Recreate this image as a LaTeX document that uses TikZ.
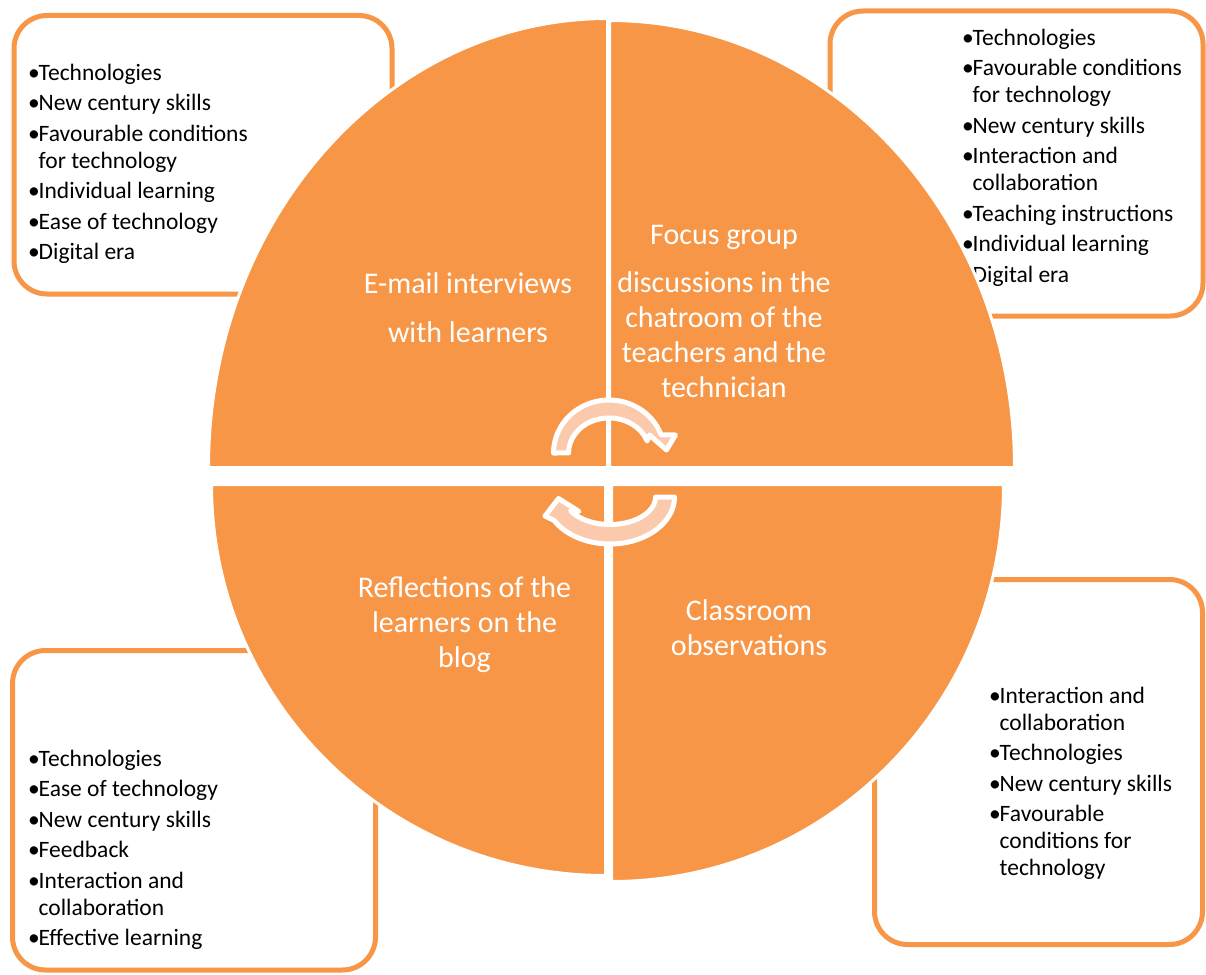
\documentclass[tikz,border=0pt]{standalone}
\usepackage{fontspec}
\setmainfont{Carlito}
\definecolor{accent}{HTML}{F79646}
\definecolor{arrowfill}{HTML}{FBCAAD}
\newcommand{\bul}{\makebox[10.5pt][l]{\textbullet}}
\newcommand{\cont}{\hspace*{10.5pt}}
\begin{document}
\begin{tikzpicture}[x=1pt, y=1pt, yscale=-1,
		every node/.append style={inner sep=0pt},
		listbox/.style={draw=accent, line width=5pt, fill=white, rounded corners=33pt},
		listtext/.style={anchor=north west, align=left, font=\fontsize{23.5}{27}\selectfont},
		quarter/.style={fill=accent, draw=white, line width=3pt},
		quartertext/.style={anchor=north, align=center, text=white, font=\fontsize{30}{35}\selectfont},
		cyclearrow/.style={fill=arrowfill, draw=white, line width=5pt, line join=round}]
			\useasboundingbox (0,0) rectangle (1206,974);
			
			\draw[listbox] (14,15.5) rectangle (392,294);
			\draw[listbox] (830,11) rectangle (1203,316);
			\draw[listbox] (874.5,579.5) rectangle (1202.5,944.5);
			\draw[listbox] (12.5,650.5) rectangle (375.5,970);
			
			\node[listtext] (emaillist) at (28,63.5) {\bul Technologies\\[3.5pt] \bul New century skills\\[3.5pt] \bul Favourable conditions\\ \cont for technology\\[3.5pt] \bul Individual learning\\[3.5pt] \bul Ease of technology\\[3.5pt] \bul Digital era};
			\node[listtext] (focuslist) at (962,28.5) {\bul Technologies\\[3.5pt] \bul Favourable conditions\\ \cont for technology\\[3.5pt] \bul New century skills\\[3.5pt] \bul Interaction and\\ \cont collaboration\\[3.5pt] \bul Teaching instructions\\[3.5pt] \bul Individual learning\\[3.5pt] \bul Digital era};
			\node[listtext] (observelist) at (989,686.5) {\bul Interaction and\\ \cont collaboration\\[3.5pt] \bul Technologies\\[3.5pt] \bul New century skills\\[3.5pt] \bul Favourable\\ \cont conditions for\\ \cont technology};
			\node[listtext] (reflectlist) at (28,749.5) {\bul Technologies\\[3.5pt] \bul Ease of technology\\[3.5pt] \bul New century skills\\[3.5pt] \bul Feedback\\[3.5pt] \bul Interaction and\\ \cont collaboration\\[3.5pt] \bul Effective learning};
			
			\draw[quarter] (607.5,467.5) -- (208.5,467.5) arc[start angle=180, end angle=270, x radius=399, y radius=449] -- cycle;
			\draw[quarter] (609.5,467.5) -- (609.5,20.5) arc[start angle=270, end angle=360, x radius=405, y radius=447] -- cycle;
			\draw[quarter] (611.5,484.5) -- (1003.5,484.5) arc[start angle=0, end angle=90, x radius=392, y radius=397] -- cycle;
			\draw[quarter] (605.5,484.5) -- (605.5,875.5) arc[start angle=90, end angle=180, x radius=394, y radius=391] -- cycle;
			
			\node[quartertext] (email) at (468,272) {E-mail interviews\\[14pt] with learners};
			\node[quartertext] (focus) at (724,224.7) {Focus group\\[13pt] discussions in the\\ chatroom of the\\ teachers and the\\ technician};
			\node[quartertext] (reflect) at (464.5,576) {Reflections of the\\ learners on the\\ blog};
			\node[quartertext] (observe) at (749,599) {Classroom\\ observations};
			
			\draw[cyclearrow] (553.5,453) arc[start angle=180, end angle=340, x radius=55.5, y radius=53] -- (675.5,435) -- (666.5,450) -- (649.5,435) -- (647.1,441) arc[start angle=340, end angle=180, x radius=40.5, y radius=35] -- cycle;
			\draw[cyclearrow] (674.5,497) arc[start angle=0, end angle=150, x radius=64.5, y radius=47] -- (545,516) -- (558.5,498.5) -- (579,511.5) -- (570.6,510.75) arc[start angle=150, end angle=0, x radius=45.5, y radius=27.5] -- cycle;
		\end{tikzpicture}
\end{document}
